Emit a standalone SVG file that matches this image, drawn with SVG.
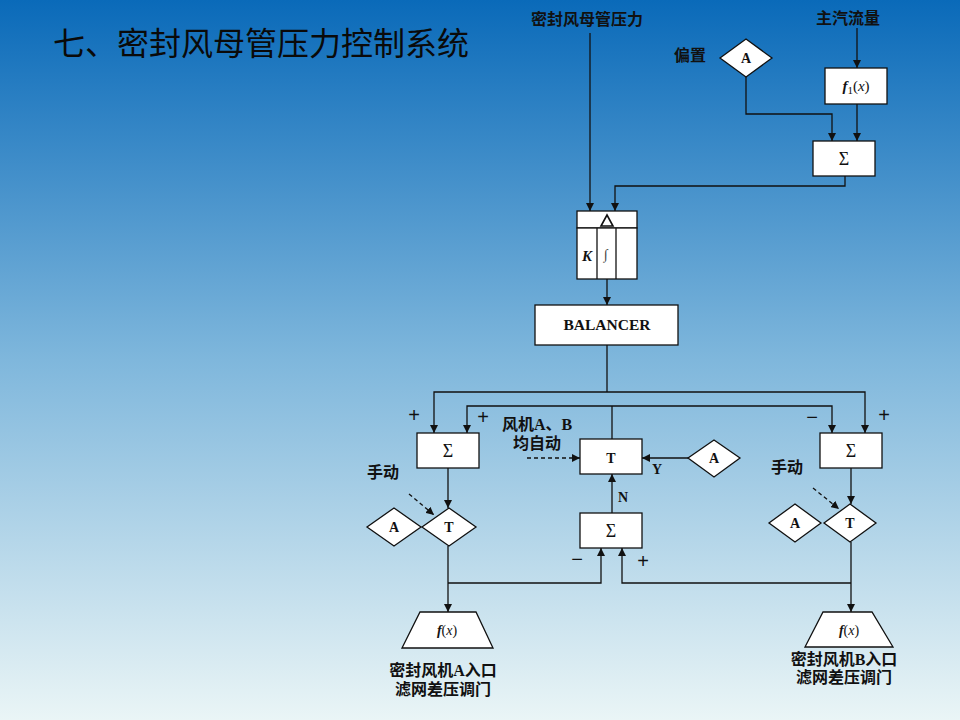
<svg xmlns="http://www.w3.org/2000/svg" width="960" height="720" viewBox="0 0 960 720">
<defs>
<linearGradient id="bg" x1="0" y1="0" x2="0" y2="1">
<stop offset="0" stop-color="#0a6ab9"/>
<stop offset="0.5" stop-color="#7fb7dc"/>
<stop offset="1" stop-color="#eaf5f6"/>
</linearGradient>
<marker id="ah" viewBox="0 0 10 10" refX="10" refY="5" markerWidth="8" markerHeight="8" markerUnits="userSpaceOnUse" orient="auto-start-reverse">
<path d="M0,0 L10,5 L0,10 Z" fill="#111"/>
</marker>
<style>
.ln{fill:none;stroke:#111;stroke-width:1.3}
.ar{marker-end:url(#ah)}
.both{marker-start:url(#ah);marker-end:url(#ah)}
.dash{stroke-dasharray:4,3}
.box{fill:#fff;stroke:#111;stroke-width:1.3}
.tx{font-family:"Liberation Serif","Noto Sans CJK SC",serif;font-weight:bold;fill:#111;text-anchor:middle}
.cn{font-family:"Liberation Serif","Noto Sans CJK SC",serif;font-weight:bold;font-size:16px;fill:#111;text-anchor:middle}
.sg{font-family:"Liberation Serif",serif;font-size:18px;fill:#111;text-anchor:middle}
.pm{font-family:"Liberation Sans",sans-serif;font-size:20px;fill:#111;text-anchor:middle}
</style>
</defs>
<rect x="0" y="0" width="960" height="720" fill="url(#bg)"/>
<text x="53" y="55" font-family="'Noto Sans CJK SC',sans-serif" font-size="32" fill="#0a0a0a">七、密封风母管压力控制系统</text>

<g id="connectors">
<path class="ln ar" d="M590,33 V211"/>
<path class="ln ar" d="M857,28 V68"/>
<path class="ln ar" d="M746,77 V114 H832 V141"/>
<path class="ln ar" d="M857,104 V141"/>
<path class="ln ar" d="M845,176 V186 H615 V211"/>
<path class="ln ar" d="M607,279 V305"/>
<path class="ln" d="M607,345 V392"/>
<path class="ln both" d="M434,433 V392 H865 V433"/>
<path class="ln both" d="M467,433 V406 H832 V433"/>
<path class="ln" d="M612,439 V406"/>
<path class="ln ar" d="M448,468 V508"/>
<path class="ln ar" d="M851,468 V504"/>
<path class="ln dash ar" d="M409,494 L434,515"/>
<path class="ln dash ar" d="M813,488 L839,509"/>
<path class="ln dash ar" d="M527,458 H580"/>
<path class="ln ar" d="M688,458 H642"/>
<path class="ln ar" d="M612,513 V474"/>
<path class="ln ar" d="M448,546 V612"/>
<path class="ln ar" d="M448,583 H601 V548"/>
<path class="ln ar" d="M851,542 V612"/>
<path class="ln ar" d="M851,583 H622 V548"/>
</g>

<g id="label-pressure"><text class="cn" x="587" y="25">密封风母管压力</text></g>
<g id="label-steam"><text class="cn" x="848" y="24">主汽流量</text></g>
<g id="label-bias"><text class="cn" x="690" y="61">偏置</text></g>

<g id="bias-A">
<polygon class="box" points="746,39 772,58 746,77 720,58"/>
<text class="tx" x="746" y="63" font-size="14">A</text>
</g>
<g id="f1">
<rect class="box" x="825" y="68" width="62" height="36"/>
<text x="856" y="91" font-family="'Liberation Serif',serif" font-size="15" fill="#111" text-anchor="middle"><tspan font-style="italic" font-weight="bold">f</tspan><tspan font-size="11" dy="3">1</tspan><tspan dy="-3">(</tspan><tspan font-style="italic">x</tspan>)</text>
</g>
<g id="sum-top">
<rect class="box" x="813" y="141" width="62" height="35"/>
<text class="sg" x="844" y="165">Σ</text>
</g>

<g id="pid">
<rect class="box" x="577" y="211" width="60" height="17"/>
<rect class="box" x="577" y="228" width="60" height="51"/>
<line class="ln" x1="597" y1="228" x2="597" y2="279"/>
<line class="ln" x1="616" y1="228" x2="616" y2="279"/>
<path d="M601,226 L607,215 L613,226 Z" fill="none" stroke="#111" stroke-width="1.6"/>
<text x="587" y="261" font-family="'Liberation Serif',serif" font-size="15" font-style="italic" font-weight="bold" fill="#111" text-anchor="middle">K</text>
<text x="606" y="259" font-family="'Liberation Serif',serif" font-size="14" fill="#444" text-anchor="middle">∫</text>
</g>

<g id="balancer">
<rect class="box" x="535" y="305" width="143" height="40"/>
<text class="tx" x="607" y="330" font-size="15.5">BALANCER</text>
</g>

<g id="sum-left">
<rect class="box" x="417" y="433" width="62" height="35"/>
<text class="sg" x="448" y="457">Σ</text>
</g>
<g id="sum-right">
<rect class="box" x="820" y="433" width="62" height="35"/>
<text class="sg" x="851" y="457">Σ</text>
</g>
<g id="signs">
<text class="pm" x="414" y="422">+</text>
<text class="pm" x="483" y="424">+</text>
<text class="pm" x="812" y="424">−</text>
<text class="pm" x="884" y="422">+</text>
<text class="pm" x="577" y="566">−</text>
<text class="pm" x="643" y="568">+</text>
</g>

<g id="label-both-auto">
<text class="cn" x="537" y="430">风机A、B</text>
<text class="cn" x="537" y="449">均自动</text>
</g>
<g id="T-mid">
<rect class="box" x="580" y="439" width="62" height="35"/>
<text class="tx" x="611" y="463" font-size="14">T</text>
</g>
<g id="A-mid">
<polygon class="box" points="714,440 740,458 714,477 688,458"/>
<text class="tx" x="714" y="463" font-size="14">A</text>
</g>
<g id="YN">
<text class="tx" x="657" y="474" font-size="14">Y</text>
<text class="tx" x="623" y="502" font-size="14">N</text>
</g>
<g id="sum-mid">
<rect class="box" x="580" y="513" width="62" height="35"/>
<text class="sg" x="611" y="537">Σ</text>
</g>

<g id="manual-left"><text class="cn" x="383" y="478">手动</text></g>
<g id="A-left">
<polygon class="box" points="394,508 421,527 394,546 367,527"/>
<text class="tx" x="394" y="532" font-size="14">A</text>
</g>
<g id="T-left">
<polygon class="box" points="449,508 476,527 449,546 422,527"/>
<text class="tx" x="449" y="532" font-size="14">T</text>
</g>

<g id="manual-right"><text class="cn" x="787" y="473">手动</text></g>
<g id="A-right">
<polygon class="box" points="795,504 821,523 795,542 769,523"/>
<text class="tx" x="795" y="528" font-size="14">A</text>
</g>
<g id="T-right">
<polygon class="box" points="850,504 876,523 850,542 824,523"/>
<text class="tx" x="850" y="528" font-size="14">T</text>
</g>

<g id="fx-left">
<polygon class="box" points="420,612 476,612 493,648 402,648"/>
<text x="447" y="635" font-family="'Liberation Serif',serif" font-size="14" fill="#111" text-anchor="middle"><tspan font-style="italic" font-weight="bold">f</tspan>(<tspan font-style="italic">x</tspan>)</text>
</g>
<g id="fx-right">
<polygon class="box" points="823,612 872,612 893,647 805,647"/>
<text x="849" y="635" font-family="'Liberation Serif',serif" font-size="14" fill="#111" text-anchor="middle"><tspan font-style="italic" font-weight="bold">f</tspan>(<tspan font-style="italic">x</tspan>)</text>
</g>
<g id="label-A-valve">
<text class="cn" x="443" y="676">密封风机A入口</text>
<text class="cn" x="443" y="695">滤网差压调门</text>
</g>
<g id="label-B-valve">
<text class="cn" x="844" y="665">密封风机B入口</text>
<text class="cn" x="844" y="683">滤网差压调门</text>
</g>
</svg>
